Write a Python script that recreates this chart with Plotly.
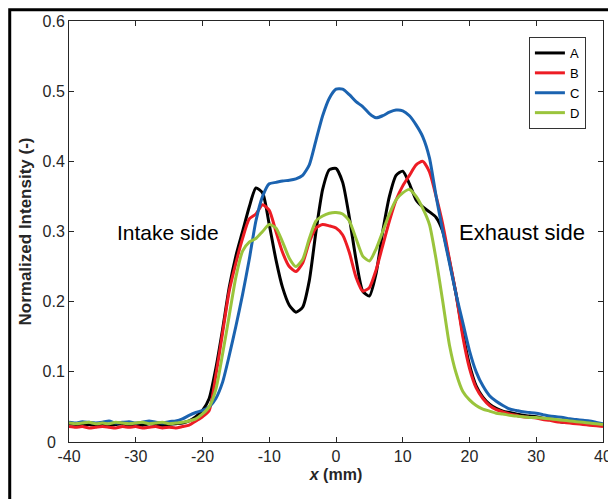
import plotly.graph_objects as go

x_mm = list(range(-40, 41))

series_a = [0.026, 0.025, 0.024, 0.025, 0.024, 0.025, 0.024, 0.025, 0.026, 0.024,
            0.025, 0.024, 0.026, 0.025, 0.024, 0.025, 0.026, 0.027, 0.030, 0.036,
            0.045, 0.062, 0.105, 0.160, 0.220, 0.265, 0.300, 0.335, 0.362, 0.355,
            0.310, 0.260, 0.220, 0.195, 0.185, 0.192, 0.230, 0.300, 0.360, 0.388,
            0.390, 0.370, 0.320, 0.260, 0.215, 0.208, 0.240, 0.300, 0.350, 0.380,
            0.386, 0.368, 0.345, 0.335, 0.328, 0.320, 0.300, 0.258, 0.210, 0.155,
            0.110, 0.080, 0.064, 0.054, 0.048, 0.044, 0.042, 0.040, 0.038, 0.037,
            0.036, 0.034, 0.033, 0.031, 0.028, 0.030, 0.029, 0.027, 0.027, 0.026,
            0.025]

series_b = [0.022, 0.021, 0.022, 0.020, 0.021, 0.022, 0.021, 0.020, 0.022, 0.021,
            0.022, 0.020, 0.021, 0.022, 0.020, 0.021, 0.020, 0.022, 0.024, 0.030,
            0.036, 0.045, 0.095, 0.155, 0.215, 0.255, 0.290, 0.318, 0.325, 0.338,
            0.330, 0.300, 0.270, 0.250, 0.243, 0.255, 0.285, 0.305, 0.310, 0.308,
            0.305, 0.295, 0.270, 0.235, 0.215, 0.220, 0.245, 0.280, 0.315, 0.345,
            0.365, 0.380, 0.395, 0.400, 0.385, 0.350, 0.310, 0.260, 0.210, 0.150,
            0.105, 0.077, 0.062, 0.052, 0.046, 0.043, 0.040, 0.038, 0.036, 0.035,
            0.034, 0.032, 0.031, 0.029, 0.028, 0.027, 0.026, 0.025, 0.024, 0.023,
            0.022]

series_c = [0.028, 0.027, 0.029, 0.028, 0.027, 0.028, 0.030, 0.027, 0.028, 0.029,
            0.027, 0.028, 0.030, 0.028, 0.027, 0.029, 0.030, 0.033, 0.038, 0.042,
            0.045, 0.050, 0.062, 0.085, 0.123, 0.165, 0.210, 0.260, 0.315, 0.350,
            0.368, 0.370, 0.372, 0.373, 0.375, 0.380, 0.395, 0.430, 0.465, 0.490,
            0.503, 0.503, 0.495, 0.485, 0.478, 0.468, 0.462, 0.465, 0.470, 0.473,
            0.472, 0.465, 0.452, 0.435, 0.405, 0.350, 0.300, 0.255, 0.210, 0.170,
            0.130, 0.100, 0.080, 0.066, 0.058, 0.052, 0.047, 0.045, 0.043, 0.042,
            0.041, 0.039, 0.037, 0.036, 0.035, 0.033, 0.032, 0.031, 0.030, 0.028,
            0.026]

series_d = [0.027, 0.026, 0.027, 0.028, 0.026, 0.027, 0.026, 0.028, 0.027, 0.026,
            0.027, 0.028, 0.026, 0.027, 0.028, 0.026, 0.027, 0.028, 0.030, 0.033,
            0.040, 0.050, 0.075, 0.125, 0.180, 0.235, 0.272, 0.285, 0.290, 0.300,
            0.310, 0.305, 0.285, 0.262, 0.250, 0.260, 0.290, 0.315, 0.322, 0.326,
            0.327, 0.325, 0.315, 0.290, 0.265, 0.258, 0.275, 0.300, 0.325, 0.345,
            0.355, 0.360, 0.350, 0.333, 0.310, 0.260, 0.200, 0.138, 0.098, 0.072,
            0.060, 0.052, 0.047, 0.044, 0.041, 0.040, 0.038, 0.037, 0.036, 0.035,
            0.035, 0.034, 0.033, 0.032, 0.031, 0.030, 0.029, 0.028, 0.027, 0.026,
            0.025]

names = ['A', 'B', 'C', 'D']
colors = ['#000000', '#ed1c24', '#1b63b0', '#9ac43c']
x_ticks = [-40, -30, -20, -10, 0, 10, 20, 30, 40]
x_tick_text = ['-40', '-30', '-20', '-10', '0', '10', '20', '30', '40']
y_ticks = [0, 0.1, 0.2, 0.3, 0.4, 0.5, 0.6]
# the zero label sits a little further left, as in the original
y_tick_text = ['0\u2007', '0.1', '0.2', '0.3', '0.4', '0.5', '0.6']

font = 'Liberation Sans, Arial, sans-serif'

fig = go.Figure()
for name, ys, col in zip(names, [series_a, series_b, series_c, series_d], colors):
    fig.add_trace(go.Scatter(x=x_mm, y=ys, mode='lines', name=name,
                             line=dict(color=col, width=3, shape='spline', smoothing=0.6)))

axis_common = dict(showgrid=False, zeroline=False, showline=True, linecolor='#262626',
                   linewidth=1, mirror='ticks', ticks='inside', ticklen=5,
                   tickcolor='#262626', automargin=False,
                   tickfont=dict(family=font, size=16, color='#262626'))

fig.update_xaxes(range=[-40, 40], tickvals=x_ticks, ticktext=x_tick_text,
                 title=dict(text='<b><i>x</i> (mm)</b>', font=dict(family=font, size=16, color='#262626'),
                            standoff=4),
                 **axis_common)
fig.update_yaxes(range=[0, 0.6], tickvals=y_ticks, ticktext=y_tick_text,
                 title=dict(text='<b>Normalized Intensity (-)</b>', font=dict(family=font, size=17, color='#262626'),
                            standoff=6),
                 **axis_common)

fig.add_annotation(x=-25.2, y=0.298, text='Intake side', showarrow=False,
                   font=dict(family=font, size=21, color='#000000'))
fig.add_annotation(x=27.9, y=0.298, text='Exhaust side', showarrow=False,
                   font=dict(family=font, size=22, color='#000000'))

# outer figure frame, only its left and top edges fall inside the window
fig.add_shape(type='rect', xref='paper', yref='paper', x0=-0.111, x1=1.2, y0=-0.4, y1=1.027,
              line=dict(color='#000000', width=3))

fig.update_layout(
    width=616, height=499,
    margin=dict(l=61, r=21, t=13, b=65),
    plot_bgcolor='white', paper_bgcolor='white',
    legend=dict(x=0.968, y=0.962, xanchor='right', yanchor='top',
                bordercolor='#333333', borderwidth=1, bgcolor='white',
                font=dict(family=font, size=13, color='#000000'),
                tracegroupgap=0, itemwidth=30, entrywidth=30),
)

fig.write_html("out.html")
